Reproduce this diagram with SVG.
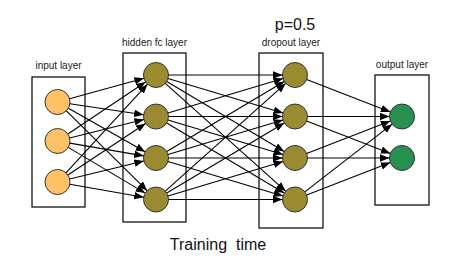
<svg xmlns="http://www.w3.org/2000/svg" width="460" height="268" viewBox="0 0 460 268">
<style>
.box{fill:none;stroke:#000;stroke-width:1.2}
.lbl{font-family:"Liberation Sans",Arial,sans-serif;font-size:10px;fill:#222;text-anchor:middle}
.big{font-family:"Liberation Sans",Arial,sans-serif;font-size:16px;fill:#111;text-anchor:middle;white-space:pre}
.in{fill:#FFC266;stroke:#333;stroke-width:1}
.hid{fill:#9B8B30;stroke:#333;stroke-width:1}
.out{fill:#279152;stroke:#333;stroke-width:1}
#edges line{stroke:#000;stroke-width:1.1;marker-end:url(#ah)}
</style>
<defs>
<marker id="ah" markerUnits="userSpaceOnUse" markerWidth="10" markerHeight="8" refX="9.5" refY="3.75" orient="auto">
<path d="M0,0 L9.5,3.75 L0,7.5 Z" fill="#000"/>
</marker>
</defs>
<rect width="460" height="268" fill="#fff"/>
<text class="big" x="295" y="30">p=0.5</text>
<text class="big" x="218" y="250" xml:space="preserve">Training  time</text>
<g id="input-layer">
<rect class="box" x="32" y="77" width="53" height="130"/>
<text class="lbl" x="58.5" y="69">input layer</text>
<circle id="i1" class="in" cx="57.5" cy="102" r="12.5"/>
<circle id="i2" class="in" cx="57.5" cy="141" r="12.5"/>
<circle id="i3" class="in" cx="57.5" cy="182" r="12.5"/>
</g>
<g id="hidden-layer">
<rect class="box" x="123" y="53" width="63" height="169"/>
<text class="lbl" x="154.5" y="46">hidden fc layer</text>
<circle id="h1" class="hid" cx="156" cy="75" r="12.5"/>
<circle id="h2" class="hid" cx="156" cy="116.5" r="12.5"/>
<circle id="h3" class="hid" cx="156" cy="158" r="12.5"/>
<circle id="h4" class="hid" cx="156" cy="199.5" r="12.5"/>
</g>
<g id="dropout-layer">
<rect class="box" x="259" y="53" width="64" height="175"/>
<text class="lbl" x="291" y="46">dropout layer</text>
<circle id="d1" class="hid" cx="295" cy="75" r="12.5"/>
<circle id="d2" class="hid" cx="295" cy="116.5" r="12.5"/>
<circle id="d3" class="hid" cx="295" cy="158" r="12.5"/>
<circle id="d4" class="hid" cx="295" cy="199.5" r="12.5"/>
</g>
<g id="output-layer">
<rect class="box" x="375" y="75" width="54" height="130"/>
<text class="lbl" x="402" y="68">output layer</text>
<circle id="o1" class="out" cx="402" cy="116.5" r="12.5"/>
<circle id="o2" class="out" cx="402" cy="158" r="12.5"/>
</g>
<g id="edges">
<line x1="69.57" y1="98.75" x2="143.93" y2="78.25"/>
<line x1="69.87" y1="103.82" x2="143.63" y2="114.68"/>
<line x1="68.37" y1="108.18" x2="145.13" y2="151.82"/>
<line x1="66.38" y1="110.79" x2="147.12" y2="190.71"/>
<line x1="67.91" y1="134.08" x2="145.59" y2="81.92"/>
<line x1="69.63" y1="137.98" x2="143.87" y2="119.52"/>
<line x1="69.82" y1="143.13" x2="143.68" y2="155.87"/>
<line x1="68.25" y1="147.38" x2="145.25" y2="193.12"/>
<line x1="65.99" y1="172.82" x2="147.51" y2="84.18"/>
<line x1="67.91" y1="175.08" x2="145.59" y2="123.42"/>
<line x1="69.64" y1="179.04" x2="143.86" y2="160.96"/>
<line x1="69.81" y1="184.19" x2="143.69" y2="197.31"/>

<line x1="168.5" y1="75" x2="282.5" y2="75"/>
<line x1="167.98" y1="78.58" x2="283.02" y2="112.92"/>
<line x1="166.73" y1="81.41" x2="284.27" y2="151.59"/>
<line x1="165.31" y1="83.34" x2="285.69" y2="191.16"/>
<line x1="167.98" y1="112.92" x2="283.02" y2="78.58"/>
<line x1="168.5" y1="116.5" x2="282.5" y2="116.5"/>
<line x1="167.98" y1="120.08" x2="283.02" y2="154.42"/>
<line x1="166.73" y1="122.91" x2="284.27" y2="193.09"/>
<line x1="166.73" y1="151.59" x2="284.27" y2="81.41"/>
<line x1="167.98" y1="154.42" x2="283.02" y2="120.08"/>
<line x1="168.5" y1="158" x2="282.5" y2="158"/>
<line x1="167.98" y1="161.58" x2="283.02" y2="195.92"/>
<line x1="165.31" y1="191.16" x2="285.69" y2="83.34"/>
<line x1="166.73" y1="193.09" x2="284.27" y2="122.91"/>
<line x1="167.98" y1="195.92" x2="283.02" y2="161.58"/>
<line x1="168.5" y1="199.5" x2="282.5" y2="199.5"/>

<line x1="306.65" y1="79.52" x2="390.35" y2="111.98"/>
<line x1="307.5" y1="116.5" x2="389.5" y2="116.5"/>
<line x1="306.65" y1="121.02" x2="390.35" y2="153.48"/>
<line x1="306.65" y1="153.48" x2="390.35" y2="121.02"/>
<line x1="307.5" y1="158" x2="389.5" y2="158"/>
<line x1="304.88" y1="191.84" x2="392.12" y2="124.16"/>
<line x1="306.65" y1="194.98" x2="390.35" y2="162.52"/>
</g>
</svg>
